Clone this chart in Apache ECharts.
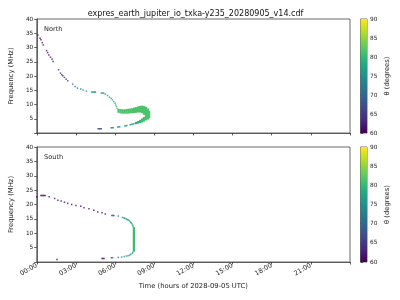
<!DOCTYPE html>
<html>
<head>
<meta charset="utf-8">
<title>expres_earth_jupiter_io_txka-y235_20280905_v14.cdf</title>
<script src="https://cdn.jsdelivr.net/npm/echarts@6.0.0/dist/echarts.min.js"></script>
<style>
  html, body { margin: 0; padding: 0; background: #fff; }
  #chart { width: 400px; height: 300px; }
</style>
</head>
<body>
<div id="chart"></div>
<script>
// [time (h), frequency (MHz), theta (deg)]
var northDots = [
  [0.08, 34.4, 61], [0.25, 33.25, 61], [0.32, 32.7, 61], [0.42, 31.7, 61], [0.5, 30.9, 61],
  [0.75, 28.9, 61], [0.83, 28.2, 61], [0.92, 27.4, 61], [1.05, 26.6, 61], [1.17, 25.9, 61], [1.25, 25.1, 61],
  [1.67, 22.2, 63], [1.82, 21.0, 63], [1.92, 20.4, 63.5], [2.0, 20.05, 64], [2.12, 19.5, 64],
  [2.25, 18.9, 64.5], [2.37, 18.3, 65],
  [2.75, 17.15, 69], [2.93, 16.3, 70], [3.12, 15.75, 71], [3.37, 15.4, 72], [3.55, 15.05, 73], [3.8, 14.7, 74],
  [4.2, 14.35, 75], [4.28, 14.35, 75], [4.36, 14.35, 75], [4.44, 14.35, 75], [4.5, 14.35, 75],
  [4.95, 14.0, 75], [5.03, 14.0, 75], [5.12, 14.0, 75],
  [5.25, 13.65, 75.5], [5.42, 13.15, 76], [5.57, 12.6, 76], [5.7, 12.1, 76.5], [5.8, 11.6, 77],
  [5.9, 11.0, 78], [6.0, 10.4, 79], [6.05, 9.8, 80], [6.1, 9.2, 81], [6.15, 8.6, 81.5],
  [4.7, 1.5, 66], [4.78, 1.5, 66], [4.86, 1.5, 66], [4.94, 1.5, 66],
  [5.7, 1.8, 73], [5.78, 1.8, 73], [5.86, 1.85, 73],
  [6.2, 2.1, 75], [6.28, 2.15, 75], [6.36, 2.2, 75],
  [6.75, 2.5, 76], [6.83, 2.55, 76], [6.91, 2.6, 76.5],
  [7.15, 2.9, 77], [7.23, 3.0, 77], [7.3, 3.05, 78], [7.38, 3.15, 78], [7.45, 3.25, 78.5]
];

// [time (h), freq low, freq high, theta]
var northBand = [
  [6.25, 7.3, 8.3, 81.5], [6.4, 7.1, 8.2, 81.5], [6.55, 7.0, 8.1, 81.5], [6.7, 7.0, 8.1, 81.5],
  [6.85, 7.0, 8.2, 81.5], [7.0, 7.0, 8.3, 81.5], [7.15, 7.1, 8.4, 81.5], [7.3, 7.1, 8.5, 81.5],
  [7.45, 7.2, 8.7, 81.5], [7.6, 7.3, 8.9, 81.5], [7.75, 7.4, 9.1, 81.5], [7.9, 7.4, 9.3, 81.5],
  [8.05, 7.2, 9.4, 81.5], [8.2, 6.6, 9.3, 81.5], [8.35, 4.6, 9.0, 81.5], [8.5, 4.9, 8.4, 81.5],
  [8.6, 5.4, 7.6, 81.5],
  [8.2, 4.2, 5.4, 81], [8.05, 3.9, 4.9, 80.5], [7.9, 3.7, 4.4, 80], [7.75, 3.5, 4.0, 79.5], [7.6, 3.3, 3.7, 79]
];

var southDots = [
  [0.0, 22.7, 61], [0.32, 23.1, 60.5], [0.4, 23.1, 60.5], [0.48, 23.1, 60.5], [0.56, 23.1, 60.5],
  [0.64, 23.1, 60.5], [0.95, 22.7, 61],
  [1.37, 22.1, 61], [1.62, 21.5, 61], [1.87, 21.2, 61], [2.12, 20.8, 61], [2.37, 20.4, 61],
  [2.67, 20.0, 61], [3.0, 19.65, 61], [3.37, 19.4, 61], [3.62, 18.85, 61], [4.0, 18.5, 61],
  [4.37, 18.0, 61], [4.67, 17.4, 61], [5.0, 17.1, 61], [5.25, 16.7, 61.5],
  [5.75, 16.2, 66], [5.83, 16.2, 66], [5.91, 16.2, 66],
  [6.25, 16.0, 72], [6.57, 15.5, 74], [6.68, 15.3, 75], [6.75, 15.2, 75], [6.85, 15.0, 76],
  [6.92, 14.8, 76], [7.0, 14.6, 76.5], [7.07, 14.4, 77], [7.15, 14.1, 77.5], [7.2, 13.8, 78],
  [7.25, 13.5, 78], [7.3, 13.2, 78.5], [7.35, 12.8, 79], [7.37, 12.4, 79.5],
  [7.35, 3.4, 79], [7.32, 3.0, 78], [7.2, 2.7, 77], [7.12, 2.4, 76.5], [7.0, 2.2, 76],
  [6.87, 2.07, 75.5], [6.7, 1.9, 75], [6.5, 1.72, 74], [6.25, 1.6, 72],
  [5.72, 1.48, 67], [5.8, 1.48, 67],
  [1.55, 0.9, 61], [5.0, 1.25, 61], [5.08, 1.25, 61], [5.16, 1.25, 61]
];

var southBand = [
  [7.43, 3.8, 12.0, 80.5]
];

var hourTicks = ['00:00', '03:00', '06:00', '09:00', '12:00', '15:00', '18:00', '21:00'];
var thetaRange = [60, 90];
var viridis = ['#440154', '#482475', '#414487', '#355f8d', '#2a788e', '#21918c',
               '#22a884', '#44bf70', '#7ad151', '#bddf26', '#fde725'];

var BAND_STEP = 0.15; // hours covered by one band column
var FONT = 'DejaVu Sans';
var panels = [{top: 19, height: 114}, {top: 147, height: 115}];

function renderBand(params, api) {
  var lo = api.coord([api.value(0), api.value(1)]);
  var hi = api.coord([api.value(0), api.value(2)]);
  var w = api.size([BAND_STEP, 0])[0];
  return {
    type: 'rect',
    shape: {x: lo[0] - w / 2, y: hi[1] - 0.6, width: w + 0.3, height: lo[1] - hi[1] + 1.2},
    style: {fill: api.visual('color')}
  };
}

function renderColorbar(params, api) {
  var top = api.coord([0, thetaRange[1]]);
  var bottom = api.coord([1, thetaRange[0]]);
  var stops = viridis.map(function (c, i) {
    return {offset: 1 - i / (viridis.length - 1), color: c};
  });
  return {
    type: 'rect',
    shape: {x: top[0], y: top[1], width: bottom[0] - top[0], height: bottom[1] - top[1]},
    style: {fill: new echarts.graphic.LinearGradient(0, 0, 0, 1, stops)}
  };
}

function mainX(idx, showLabels) {
  return {
    type: 'value', gridIndex: idx, min: 0, max: 24, interval: 3,
    axisLine: {show: true, lineStyle: {color: '#444', width: 0.8}},
    axisTick: {show: true, length: 2.5, lineStyle: {color: '#333', width: 0.8}},
    splitLine: {show: false},
    axisLabel: {
      show: showLabels, rotate: 30, fontSize: 6.5, color: '#222', fontFamily: FONT, margin: 3,
      formatter: function (v) { return hourTicks[v / 3] || ''; }
    },
    name: showLabels ? 'Time (hours of 2028-09-05 UTC)' : '',
    nameLocation: 'middle', nameGap: 21,
    nameTextStyle: {fontSize: 6.8, color: '#222', fontFamily: FONT}
  };
}

function mainY(idx) {
  return {
    type: 'value', gridIndex: idx, min: 0, max: 40, interval: 5,
    axisLine: {show: true, lineStyle: {color: '#444', width: 0.8}},
    axisTick: {show: true, length: 2.5, lineStyle: {color: '#333', width: 0.8}},
    splitLine: {show: false},
    axisLabel: {
      fontSize: 5.8, color: '#222', fontFamily: FONT, margin: 3.5,
      formatter: function (v) { return v === 0 ? '' : String(v); }
    },
    name: 'Frequency (MHz)', nameLocation: 'middle', nameGap: 17,
    nameTextStyle: {fontSize: 6.8, color: '#222', fontFamily: FONT}
  };
}

function barX(idx) {
  return {type: 'value', gridIndex: idx, min: 0, max: 1, show: false};
}

function barY(idx) {
  return {
    type: 'value', gridIndex: idx, position: 'right', min: 60, max: 90, interval: 5,
    axisLine: {show: false},
    axisTick: {show: true, length: 2.5, lineStyle: {color: '#333', width: 0.8}},
    splitLine: {show: false},
    axisLabel: {fontSize: 5.8, color: '#222', fontFamily: FONT, margin: 3},
    name: 'θ (degrees)', nameLocation: 'middle', nameGap: 17, nameRotate: 90,
    nameTextStyle: {fontSize: 6.8, color: '#222', fontFamily: FONT}
  };
}

var chart = echarts.init(document.getElementById('chart'), null, {renderer: 'canvas'});

var gridBox = {show: true, borderColor: '#444', borderWidth: 0.8, backgroundColor: 'transparent'};

var option = {
  animation: false,
  backgroundColor: '#fff',
  title: {
    text: 'expres_earth_jupiter_io_txka-y235_20280905_v14.cdf',
    left: 190.5, top: 5, textAlign: 'center',
    textStyle: {fontSize: 8, fontWeight: 'normal', color: '#111', fontFamily: FONT}
  },
  graphic: [
    {type: 'text', left: 44, top: 26, style: {text: 'North', fontSize: 6.6, fill: '#222', fontFamily: FONT}},
    {type: 'text', left: 44, top: 154, style: {text: 'South', fontSize: 6.6, fill: '#222', fontFamily: FONT}}
  ],
  grid: [
    Object.assign({left: 31, width: 319, top: panels[0].top, height: panels[0].height}, gridBox),
    Object.assign({left: 31, width: 319, top: panels[1].top, height: panels[1].height}, gridBox),
    Object.assign({left: 360.5, width: 6.5, top: panels[0].top, height: panels[0].height}, gridBox),
    Object.assign({left: 360.5, width: 6.5, top: panels[1].top, height: panels[1].height}, gridBox)
  ],
  xAxis: [mainX(0, false), mainX(1, true), barX(2), barX(3)],
  yAxis: [mainY(0), mainY(1), barY(2), barY(3)],
  visualMap: [
    {type: 'continuous', show: false, seriesIndex: [0, 1], dimension: 2,
     min: thetaRange[0], max: thetaRange[1], inRange: {color: viridis}},
    {type: 'continuous', show: false, seriesIndex: [2, 3], dimension: 3,
     min: thetaRange[0], max: thetaRange[1], inRange: {color: viridis}}
  ],
  series: [
    {type: 'scatter', xAxisIndex: 0, yAxisIndex: 0, data: northDots, symbol: 'rect', symbolSize: 1.5, silent: true},
    {type: 'scatter', xAxisIndex: 1, yAxisIndex: 1, data: southDots, symbol: 'rect', symbolSize: 1.5, silent: true},
    {type: 'custom', xAxisIndex: 0, yAxisIndex: 0, data: northBand, renderItem: renderBand, silent: true,
     encode: {x: 0, y: [1, 2]}},
    {type: 'custom', xAxisIndex: 1, yAxisIndex: 1, data: southBand, renderItem: renderBand, silent: true,
     encode: {x: 0, y: [1, 2]}},
    {type: 'custom', xAxisIndex: 2, yAxisIndex: 2, data: [[0]], renderItem: renderColorbar, silent: true, z: 1},
    {type: 'custom', xAxisIndex: 3, yAxisIndex: 3, data: [[0]], renderItem: renderColorbar, silent: true, z: 1}
  ]
};

chart.setOption(option);
</script>
</body>
</html>
